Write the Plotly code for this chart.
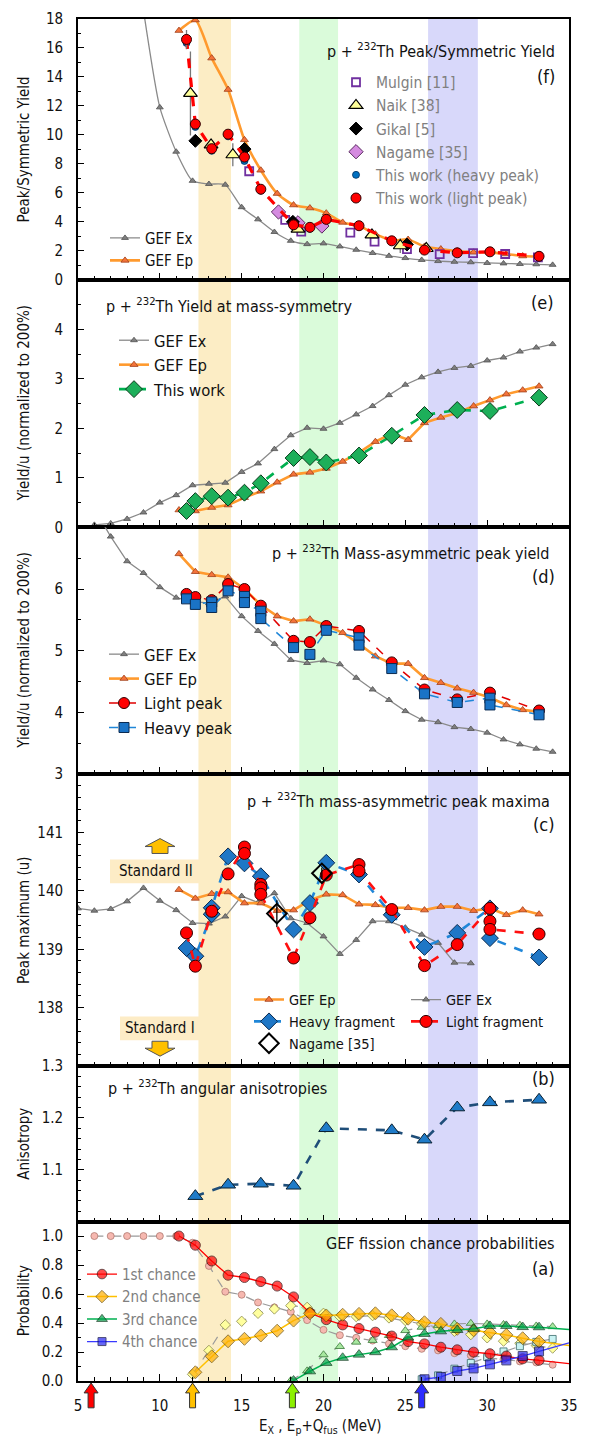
import plotly.graph_objects as go
from plotly.subplots import make_subplots

# ======================= DATA =======================
# common energy grids (MeV)
ep_x = [11.17, 12.17, 13.17, 14.17, 15.17, 16.17, 17.17, 18.17, 19.17, 20.17, 21.17, 22.17,
        23.17, 24.17, 25.17, 26.17, 27.17, 28.17, 29.17, 30.17, 31.17, 32.17, 33.17]
tw_x = [11.63, 12.17, 13.17, 14.17, 15.17, 16.17, 18.17, 19.17, 20.17, 22.17, 24.17, 26.17,
        28.17, 30.17, 33.17]

# (f) peak / symmetric yield
ex_f_x = list(range(8, 35))
gef_ex_f = [27.0, 18.6, 11.9, 8.84, 6.83, 6.61, 6.56, 5.01, 4.17, 3.30, 2.69, 2.46, 2.51, 2.30,
            2.07, 1.85, 1.65, 1.50, 1.37, 1.29, 1.24, 1.21, 1.16, 1.13, 1.09, 1.07, 1.03]
gef_ep_f = [17.2, 17.93, 15.3, 13.13, 9.66, 7.56, 5.95, 5.16, 4.95, 4.60, 3.96, 3.72, 3.15,
            2.72, 2.78, 2.30, 2.12, 1.98, 1.90, 1.89, 1.78, 1.64, 1.59]
light_f = [16.59, 10.75, 9.05, 10.05, 8.47, 6.25, 3.79, 3.62, 4.17, 3.73, 2.69, 2.05, 1.86, 1.93, 1.62]
light_f_err = [0.65, 0.3, 0.25, 0.25, 0.3, 0.2, 0.15, 0.15, 0.15, 0.12, 0.1, 0.08, 0.08, 0.08, 0.08]
heavy_f = [16.35, 10.55, 8.90, 9.90, 8.20, 6.15, 3.72, 3.52, 4.12, 3.68, 2.65, 2.02, 1.84, 1.90, 1.58]
mulgin_x = [15.46, 17.66, 18.64, 21.64, 23.12, 25.10, 27.10, 29.14, 31.10, 33.10]
mulgin_y = [7.49, 4.13, 3.33, 3.26, 2.64, 2.11, 1.77, 1.84, 1.78, 1.55]
naik_x = [11.87, 13.13, 14.46, 18.44, 22.96, 24.69, 26.28]
naik_y = [12.86, 9.31, 8.63, 3.49, 3.10, 2.35, 2.16]
naik_err = [2.9, 0.4, 0.8, 0.2, 0.2, 0.5, 0.2]
gikal_x = [12.17, 15.17, 18.13, 25.10]
gikal_y = [9.59, 9.02, 4.00, 2.43]
nagame_f_x = [17.25, 18.44, 19.90]
nagame_f_y = [4.68, 3.93, 3.71]

# (e) yield at mass symmetry
ex_e_x = list(range(6, 35))
gef_ex_e = [0.05, 0.08, 0.17, 0.30, 0.50, 0.65, 0.85, 0.88, 0.90, 1.12, 1.29, 1.58, 1.86, 2.01,
            1.99, 2.11, 2.28, 2.45, 2.67, 2.88, 3.03, 3.14, 3.22, 3.26, 3.37, 3.43, 3.55, 3.63, 3.70]
gef_ep_e = [0.35, 0.33, 0.40, 0.45, 0.60, 0.73, 0.91, 1.07, 1.11, 1.19, 1.33, 1.51, 1.73, 1.89,
            1.77, 2.11, 2.22, 2.31, 2.45, 2.57, 2.69, 2.77, 2.85]
tw_e = [0.33, 0.53, 0.63, 0.60, 0.70, 0.89, 1.40, 1.42, 1.31, 1.45, 1.85, 2.27, 2.37, 2.35, 2.62]

# (d) mass-asymmetric peak yield
ex_d_x = list(range(6, 35))
gef_ex_d = [7.30, 6.85, 6.45, 6.26, 6.03, 5.86, 5.80, 5.77, 5.88, 5.56, 5.32, 5.11, 4.85, 4.80,
            4.84, 4.78, 4.56, 4.37, 4.20, 4.02, 3.88, 3.84, 3.76, 3.73, 3.67, 3.56, 3.48, 3.41, 3.36]
gef_ep_d = [6.57, 6.28, 6.23, 6.19, 6.00, 5.74, 5.56, 5.48, 5.51, 5.41, 5.29, 5.11, 4.91, 4.79,
            4.79, 4.56, 4.48, 4.39, 4.32, 4.24, 4.12, 4.04, 4.01]
light_d = [5.92, 5.87, 5.82, 6.08, 6.00, 5.73, 5.16, 5.14, 5.40, 5.32, 4.81, 4.37, 4.21, 4.32, 4.03]
heavy_d_x = [11.63, 12.17, 13.17, 13.17, 14.17, 15.17, 15.17, 16.17, 16.17, 18.17, 19.17, 20.17,
             22.17, 22.17, 24.17, 26.17, 28.17, 30.17, 30.17, 33.17]
heavy_d = [5.84, 5.75, 5.79, 5.70, 5.97, 5.88, 5.78, 5.64, 5.52, 5.05, 4.94, 5.33, 5.21, 5.09,
           4.71, 4.30, 4.16, 4.23, 4.12, 3.96]

# (c) peak maxima
ex_c_x = list(range(5, 30))
gef_ex_c = [139.70, 139.66, 139.69, 139.82, 140.05, 139.83, 139.67, 139.45, 139.44, 139.56,
            139.91, 139.80, 139.96, 139.53, 139.45, 139.22, 138.92, 139.16, 139.48, 139.48,
            139.37, 139.25, 139.11, 138.77, 138.76]
gef_ep_c = [140.02, 139.87, 139.95, 139.98, 139.79, 139.79, 139.66, 139.67, 139.84, 139.94,
            139.93, 139.77, 139.76, 139.71, 139.71, 139.67, 139.73, 139.73, 139.66, 139.70,
            139.59, 139.67, 139.60]
heavy_c_x = [11.63, 12.17, 13.17, 13.17, 14.17, 15.17, 16.17, 18.17, 19.17, 20.17, 22.17, 24.17,
             26.17, 28.17, 30.17, 30.17, 33.17]
heavy_c = [139.02, 138.88, 139.60, 139.71, 140.59, 140.47, 140.25, 139.34, 139.79, 140.48,
           140.28, 139.59, 139.04, 139.28, 139.70, 139.19, 138.86]
light_c_x = [11.63, 12.17, 13.17, 14.17, 15.17, 15.17, 16.17, 16.17, 16.17, 18.17, 19.17, 20.17,
             22.17, 22.17, 24.17, 26.17, 28.17, 30.17, 30.17, 30.17, 33.17]
light_c = [139.28, 138.71, 139.65, 140.29, 140.75, 140.64, 140.11, 140.05, 139.94, 138.85,
           139.54, 140.27, 140.45, 140.34, 139.68, 138.72, 139.08, 139.70, 139.48, 139.34, 139.26]
nagame_c_x = [17.15, 19.90]
nagame_c = [139.61, 140.30]
nagame_c_err = [0.23, 0.1]

# (b) angular anisotropy
aniso_x = [12.17, 14.17, 16.17, 18.17, 20.17, 24.17, 26.17, 28.17, 30.17, 33.17]
aniso = [1.049, 1.071, 1.073, 1.069, 1.180, 1.176, 1.158, 1.220, 1.230, 1.235]

# (a) GEF fission chance probabilities (Ep based, solid) ; last value at right frame edge
chance1_x = ep_x + [35.0]
chance1 = [1.0, 0.937, 0.828, 0.730, 0.714, 0.686, 0.655, 0.580, 0.470, 0.423, 0.387, 0.362,
           0.337, 0.310, 0.272, 0.256, 0.233, 0.215, 0.199, 0.188, 0.172, 0.153, 0.143, 0.120]
chance2_x = ep_x[1:] + [35.0]
chance2 = [0.060, 0.170, 0.274, 0.291, 0.314, 0.347, 0.417, 0.467, 0.452, 0.457, 0.463, 0.467,
           0.453, 0.430, 0.405, 0.394, 0.360, 0.350, 0.335, 0.318, 0.295, 0.272, 0.245]
chance3_x = ep_x[7:] + [35.0]
chance3 = [0.003, 0.067, 0.125, 0.160, 0.182, 0.199, 0.233, 0.300, 0.325, 0.343, 0.352, 0.360,
           0.380, 0.380, 0.372, 0.371, 0.355]
chance4_x = ep_x[15:] + [35.0]
chance4 = [0.012, 0.028, 0.069, 0.087, 0.115, 0.142, 0.172, 0.204, 0.263]
# Ex based (pale, dashed grey)
pale1_x = list(range(6, 35))
pale1 = [1.0, 1.0, 1.0, 1.0, 1.0, 1.0, 0.954, 0.794, 0.616, 0.595, 0.542, 0.508, 0.478, 0.420,
         0.353, 0.316, 0.298, 0.279, 0.257, 0.240, 0.222, 0.211, 0.192, 0.176, 0.160, 0.149,
         0.135, 0.128, 0.112]
pale2_x = list(range(12, 35))
pale2 = [0.046, 0.211, 0.387, 0.412, 0.467, 0.497, 0.520, 0.508, 0.467, 0.444, 0.444, 0.451,
         0.435, 0.417, 0.394, 0.370, 0.343, 0.320, 0.298, 0.275, 0.260, 0.245, 0.227]
pale3_x = list(range(18, 35))
pale3 = [0.003, 0.070, 0.181, 0.238, 0.268, 0.280, 0.314, 0.348, 0.371, 0.382, 0.394, 0.398,
         0.394, 0.390, 0.385, 0.380, 0.375]
pale4_x = list(range(26, 35))
pale4 = [0.012, 0.039, 0.085, 0.124, 0.165, 0.204, 0.240, 0.270, 0.290]

# shaded energy regions and multi-chance thresholds
band_x0 = [12.36, 18.52, 26.39]
band_x1 = [14.35, 20.89, 29.43]
band_colors = ['#FCEDC5', '#DAFBDA', '#D8D8FA']
threshold_x = [5.8, 12.0, 18.1, 26.0]
threshold_colors = ['#FF0000', '#FFC000', '#8CF000', '#2B2BFF']

# ======================= LAYOUT GEOMETRY =======================
W, H = 596, 1439
ML, MR, MT, MB = 78, 27, 10, 58
PW, PH = W - ML - MR, H - MT - MB
row_px = [262.5, 249.2, 248.3, 294.0, 156.5, 160.5]


def xp(px):
    return (px - ML) / PW


def yp(py):
    return (H - MB - py) / PH


FONT = "DejaVu Sans Condensed, DejaVu Sans, sans-serif"
FS = 15

fig = make_subplots(rows=6, cols=1, shared_xaxes=True, vertical_spacing=0,
                    row_heights=row_px)

GRAY = '#8a8a8a'
ORANGE = '#FF9A2E'
EPM = dict(symbol='triangle-up', size=7, color='#F4733A', line=dict(color='#A0401A', width=0.8))
EXM = dict(symbol='triangle-up', size=6, color='#7f7f7f', line=dict(color='#505050', width=0.8))


def add(row, x, y, name='', legend=None, rank=1000, mode='lines+markers', **kw):
    fig.add_trace(go.Scatter(x=x, y=y, name=name, mode=mode,
                             showlegend=legend is not None,
                             legend=legend if legend else 'legend',
                             legendrank=rank, **kw), row=row, col=1)


RED_M = dict(symbol='circle', size=10, color='#FF0000', line=dict(color='#300000', width=1))

# ---- (f)
add(1, ex_f_x, gef_ex_f, 'GEF Ex', 'legend', 1, line=dict(color=GRAY, width=1.3, shape='spline', smoothing=0.6), marker=EXM)
add(1, ep_x, gef_ep_f, 'GEF Ep', 'legend', 2, line=dict(color=ORANGE, width=2.6, shape='spline', smoothing=0.6), marker=EPM)
add(1, mulgin_x, mulgin_y, 'Mulgin [11]', 'legend2', 1, mode='markers',
    marker=dict(symbol='square-open', size=8, color='#7030A0', line=dict(width=1.8)))
add(1, nagame_f_x, nagame_f_y, 'Nagame [35]', 'legend2', 4, mode='markers',
    marker=dict(symbol='diamond', size=11, color='#D58BE0', line=dict(color='#5a2a60', width=1)))
add(1, gikal_x, gikal_y, 'Gikal [5]', 'legend2', 3, mode='markers',
    marker=dict(symbol='diamond', size=10, color='#000000', line=dict(color='#000', width=1)))
add(1, naik_x, naik_y, 'Naik [38]', 'legend2', 2, mode='markers',
    error_y=dict(type='data', array=naik_err, color='#777', thickness=1.3, width=0),
    marker=dict(symbol='triangle-up', size=12, color='#FFFF99', line=dict(color='#000', width=1.2)))
add(1, tw_x, heavy_f, 'This work (heavy peak)', 'legend2', 5, mode='markers',
    marker=dict(symbol='circle', size=7, color='#0070C0', line=dict(color='#003060', width=0.8)))
add(1, tw_x, light_f, mode='lines', line=dict(color='#FF0000', width=3.2, dash='dash'))
add(1, tw_x, light_f, 'This work (light peak)', 'legend2', 6, mode='markers',
    error_y=dict(type='data', array=light_f_err, color='#777', thickness=1.3, width=0),
    marker=RED_M)

# ---- (e)
add(2, ex_e_x, gef_ex_e, 'GEF Ex', 'legend3', 1, line=dict(color=GRAY, width=1.3), marker=EXM)
add(2, ep_x, gef_ep_e, 'GEF Ep', 'legend3', 2, line=dict(color=ORANGE, width=2.6), marker=EPM)
add(2, tw_x, tw_e, 'This work', 'legend3', 3, line=dict(color='#00B050', width=2.6, dash='dash'),
    marker=dict(symbol='diamond', size=13, color='#1DAF5A', line=dict(color='#0a3a1a', width=1)))

# ---- (d)
add(3, ex_d_x, gef_ex_d, 'GEF Ex', 'legend4', 1, line=dict(color=GRAY, width=1.3), marker=EXM)
add(3, ep_x, gef_ep_d, 'GEF Ep', 'legend4', 2, line=dict(color=ORANGE, width=2.6), marker=EPM)
add(3, tw_x, light_d, 'Light peak', 'legend4', 3, line=dict(color='#E00000', width=1.5, dash='dash'),
    marker=dict(symbol='circle', size=11, color='#FF0000', line=dict(color='#300000', width=1)))
add(3, heavy_d_x, heavy_d, 'Heavy peak', 'legend4', 4, line=dict(color='#1F86D8', width=1.5, dash='dash'),
    marker=dict(symbol='square', size=10, color='#1A73C6', line=dict(color='#0a2a50', width=1)))

# ---- (c)
add(4, ex_c_x, gef_ex_c, 'GEF Ex', 'legend6', 1, line=dict(color=GRAY, width=1.3), marker=EXM)
add(4, ep_x, gef_ep_c, 'GEF Ep', 'legend5', 1, line=dict(color=ORANGE, width=2.6), marker=EPM)
add(4, heavy_c_x, heavy_c, 'Heavy fragment', 'legend5', 2, line=dict(color='#1F86D8', width=2.6, dash='dash'),
    marker=dict(symbol='diamond', size=13, color='#1F77C6', line=dict(color='#0a2a50', width=1)))
add(4, light_c_x, light_c, 'Light fragment', 'legend6', 2, line=dict(color='#FF1010', width=2.6, dash='dash'),
    marker=dict(symbol='circle', size=12, color='#FF0000', line=dict(color='#300000', width=1)))
add(4, nagame_c_x, nagame_c, 'Nagame [35]', 'legend5', 3, mode='markers',
    error_y=dict(type='data', array=nagame_c_err, color='#000', thickness=1.3, width=0),
    marker=dict(symbol='diamond-open', size=15, color='#000000', line=dict(width=2)))

# ---- (b)
add(5, aniso_x, aniso, line=dict(color='#1F4E79', width=2.6, dash='dash'),
    marker=dict(symbol='triangle-up', size=13, color='#1F7BC8', line=dict(color='#0a2030', width=1)))

# ---- (a)
PDL = dict(color='#9a9a9a', width=1.2, dash='dash')
add(6, pale1_x, pale1, line=PDL, marker=dict(symbol='circle', size=7, color='#F6B8B0', line=dict(color='#B07870', width=0.8)))
add(6, pale2_x, pale2, line=PDL, marker=dict(symbol='diamond', size=8, color='#FFFF9E', line=dict(color='#8a8a50', width=0.8)))
add(6, pale3_x, pale3, line=PDL, marker=dict(symbol='triangle-up', size=8, color='#A8E8A0', line=dict(color='#3a7a3a', width=0.8)))
add(6, pale4_x, pale4, line=PDL, marker=dict(symbol='square', size=7, color='#C8F2F2', line=dict(color='#3a6a6a', width=0.8)))


def msz(n, s):
    return [s] * (n - 1) + [0]


add(6, chance1_x, chance1, '1st chance', 'legend7', 1, line=dict(color='#FF0000', width=1.3),
    marker=dict(symbol='circle', size=msz(len(chance1), 10), color='#FF0000', line=dict(color='#300000', width=1)))
add(6, chance2_x, chance2, '2nd chance', 'legend7', 2, line=dict(color='#FFC000', width=1.5),
    marker=dict(symbol='diamond', size=msz(len(chance2), 10), color='#FFB000', line=dict(color='#6a4a00', width=1)))
add(6, chance3_x, chance3, '3rd chance', 'legend7', 3, line=dict(color='#00B050', width=1.5),
    marker=dict(symbol='triangle-up', size=msz(len(chance3), 10), color='#00A048', line=dict(color='#003010', width=1)))
add(6, chance4_x, chance4, '4th chance', 'legend7', 4, line=dict(color='#3A3AFF', width=1.3),
    marker=dict(symbol='square', size=msz(len(chance4), 9), color='#2828F0', line=dict(color='#000040', width=1)))

# ======================= AXES =======================
fig.update_xaxes(range=[5, 35], tick0=5, dtick=5, ticks='inside', ticklen=7, tickwidth=1.3,
                 tickcolor='black', showline=True, linecolor='black', linewidth=1.8, mirror=True,
                 showgrid=False, zeroline=False,
                 minor=dict(ticks='inside', dtick=1, tick0=5, ticklen=4, tickwidth=1.1, tickcolor='black'),
                 tickfont=dict(family=FONT, size=FS, color='#111'))
fig.update_xaxes(showticklabels=True, ticklabelstandoff=10, row=6, col=1)

yspecs = [
    (1, [0, 18], list(range(0, 19, 2)), 1, None),
    (2, [0, 5], [0, 1, 2, 3, 4], 0.5, None),
    (3, [3, 7], [3, 4, 5, 6], 0.5, None),
    (4, [137, 142], [138, 139, 140, 141], 0.2, None),
    (5, [1.0, 1.3], [1.1, 1.2, 1.3], 0.02, ['1.1', '1.2', '1.3']),
    (6, [0, 1.1], [0, 0.2, 0.4, 0.6, 0.8, 1.0], 0.1, ['0.0', '0.2', '0.4', '0.6', '0.8', '1.0']),
]
for r, rng, tv, mdt, tt in yspecs:
    kw = dict(ticktext=tt) if tt else {}
    fig.update_yaxes(range=rng, tickmode='array', tickvals=tv, ticks='inside', ticklen=6,
                     tickwidth=1.3, tickcolor='black', showline=True, linecolor='black',
                     linewidth=1.8, mirror=True, showgrid=False, zeroline=False,
                     ticklabelstandoff=10,
                     minor=dict(ticks='inside', tickmode='linear', tick0=rng[0], dtick=mdt,
                                ticklen=3.5, tickwidth=1.1, tickcolor='black'),
                     tickfont=dict(family=FONT, size=FS, color='#111'), row=r, col=1, **kw)

# ======================= SHAPES =======================
shapes = []
for x0, x1, c in zip(band_x0, band_x1, band_colors):
    shapes.append(dict(type='rect', xref='x', yref='paper', x0=x0, x1=x1, y0=0, y1=1,
                       fillcolor=c, line=dict(width=0), layer='below'))


def arrow_path(cx, tip, base, hw, hh, bw, xunits):
    # cx in data units if xunits else px ; tip/base in px (vertical)
    d = 1 if base > tip else -1
    pts = [(0, tip), (hw, tip + d * hh), (bw, tip + d * hh), (bw, base), (-bw, base),
           (-bw, tip + d * hh), (-hw, tip + d * hh)]
    out = []
    for dx, py in pts:
        if xunits:
            xv = cx + dx * 30.0 / PW
        else:
            xv = xp(cx + dx)
        out.append(f"{xv:.5f},{yp(py):.5f}")
    return "M " + " L ".join(out) + " Z"


for tx, c in zip(threshold_x, threshold_colors):
    shapes.append(dict(type='path', xref='x', yref='paper',
                       path=arrow_path(tx, 1383, 1408, 7, 10, 3, True),
                       fillcolor=c, line=dict(color='#333', width=1), layer='above'))

# Standard II / Standard I labels
shapes.append(dict(type='rect', xref='paper', yref='paper', x0=xp(110), x1=xp(199), y0=yp(880), y1=yp(856),
                   fillcolor='#FDECC6', line=dict(width=0), layer='below'))
shapes.append(dict(type='rect', xref='paper', yref='paper', x0=xp(120), x1=xp(199), y0=yp(1038), y1=yp(1014),
                   fillcolor='#FDECC6', line=dict(width=0), layer='below'))
shapes.append(dict(type='path', xref='paper', yref='paper', path=arrow_path(160, 835, 850, 15, 8, 8, False),
                   fillcolor='#FFC000', line=dict(color='#555', width=1)))
shapes.append(dict(type='path', xref='paper', yref='paper', path=arrow_path(160, 1054, 1039, 15, 8, 8, False),
                   fillcolor='#FFC000', line=dict(color='#555', width=1)))

# ======================= ANNOTATIONS =======================
ann = []
TS = 16


def txt(s, px, py, anchor='left', size=FS, color='#111', angle=0):
    ann.append(dict(text=s, x=xp(px), y=yp(py), xref='paper', yref='paper', xanchor=anchor,
                    yanchor='middle', showarrow=False, textangle=angle,
                    font=dict(family=FONT, size=size, color=color)))


txt('p + <sup>232</sup>Th Peak/Symmetric Yield', 557, 42, 'right', TS)
txt('(f)', 557, 68, 'right', 18)
txt('p + <sup>232</sup>Th Yield at mass-symmetry', 104, 298, 'left', TS)
txt('(e)', 556, 295, 'right', 18)
txt('p + <sup>232</sup>Th Mass-asymmetric peak yield', 552, 547, 'right', TS)
txt('(d)', 557, 571, 'right', 18)
txt('p + <sup>232</sup>Th mass-asymmetric peak maxima', 552, 797, 'right', TS)
txt('(c)', 557, 821, 'right', 18)
txt('p + <sup>232</sup>Th angular anisotropies', 106, 1086, 'left', TS)
txt('(b)', 557, 1077, 'right', 18)
txt('GEF fission chance probabilities', 557, 1243, 'right', TS)
txt('(a)', 557, 1268, 'right', 18)
txt('Standard II', 156, 868, 'center')
txt('Standard I', 160, 1026, 'center')

# y titles
ytitles = ['Peak/Symmetric Yield', 'Yield/u (normalized to 200%)', 'Yield/u (normalized to 200%)',
           'Peak maximum (u)', 'Anisotropy', 'Probability']
top = MT
for t, h in zip(ytitles, row_px):
    txt(t, 24, top + h / 2, 'center', FS, '#111', -90)
    top += h
txt('E<sub>X</sub> , E<sub>p</sub>+Q<sub>fus</sub> (MeV)', 320, 1427, 'center')


def leg(px, py, color='#111', size=FS):
    return dict(x=xp(px), y=yp(py), xanchor='left', yanchor='top', bgcolor='rgba(0,0,0,0)',
                borderwidth=0, font=dict(family=FONT, size=size, color=color),
                tracegroupgap=0, itemclick=False)


fig.update_layout(
    width=W, height=H, margin=dict(l=ML, r=MR, t=MT, b=MB),
    paper_bgcolor='white', plot_bgcolor='white',
    font=dict(family=FONT, size=FS, color='#111'),
    shapes=shapes, annotations=ann,
    legend=leg(105, 214),
    legend2=leg(336, 57, '#808080', 15.5),
    legend3=leg(114, 316, '#111', 16.5),
    legend4=leg(104, 632, '#111', 16.5),
    legend5=leg(249, 981, '#111', 14.5),
    legend6=leg(406, 981, '#111', 14.5),
    legend7=leg(82, 1257, '#808080'),
)

fig.write_html("out.html")
